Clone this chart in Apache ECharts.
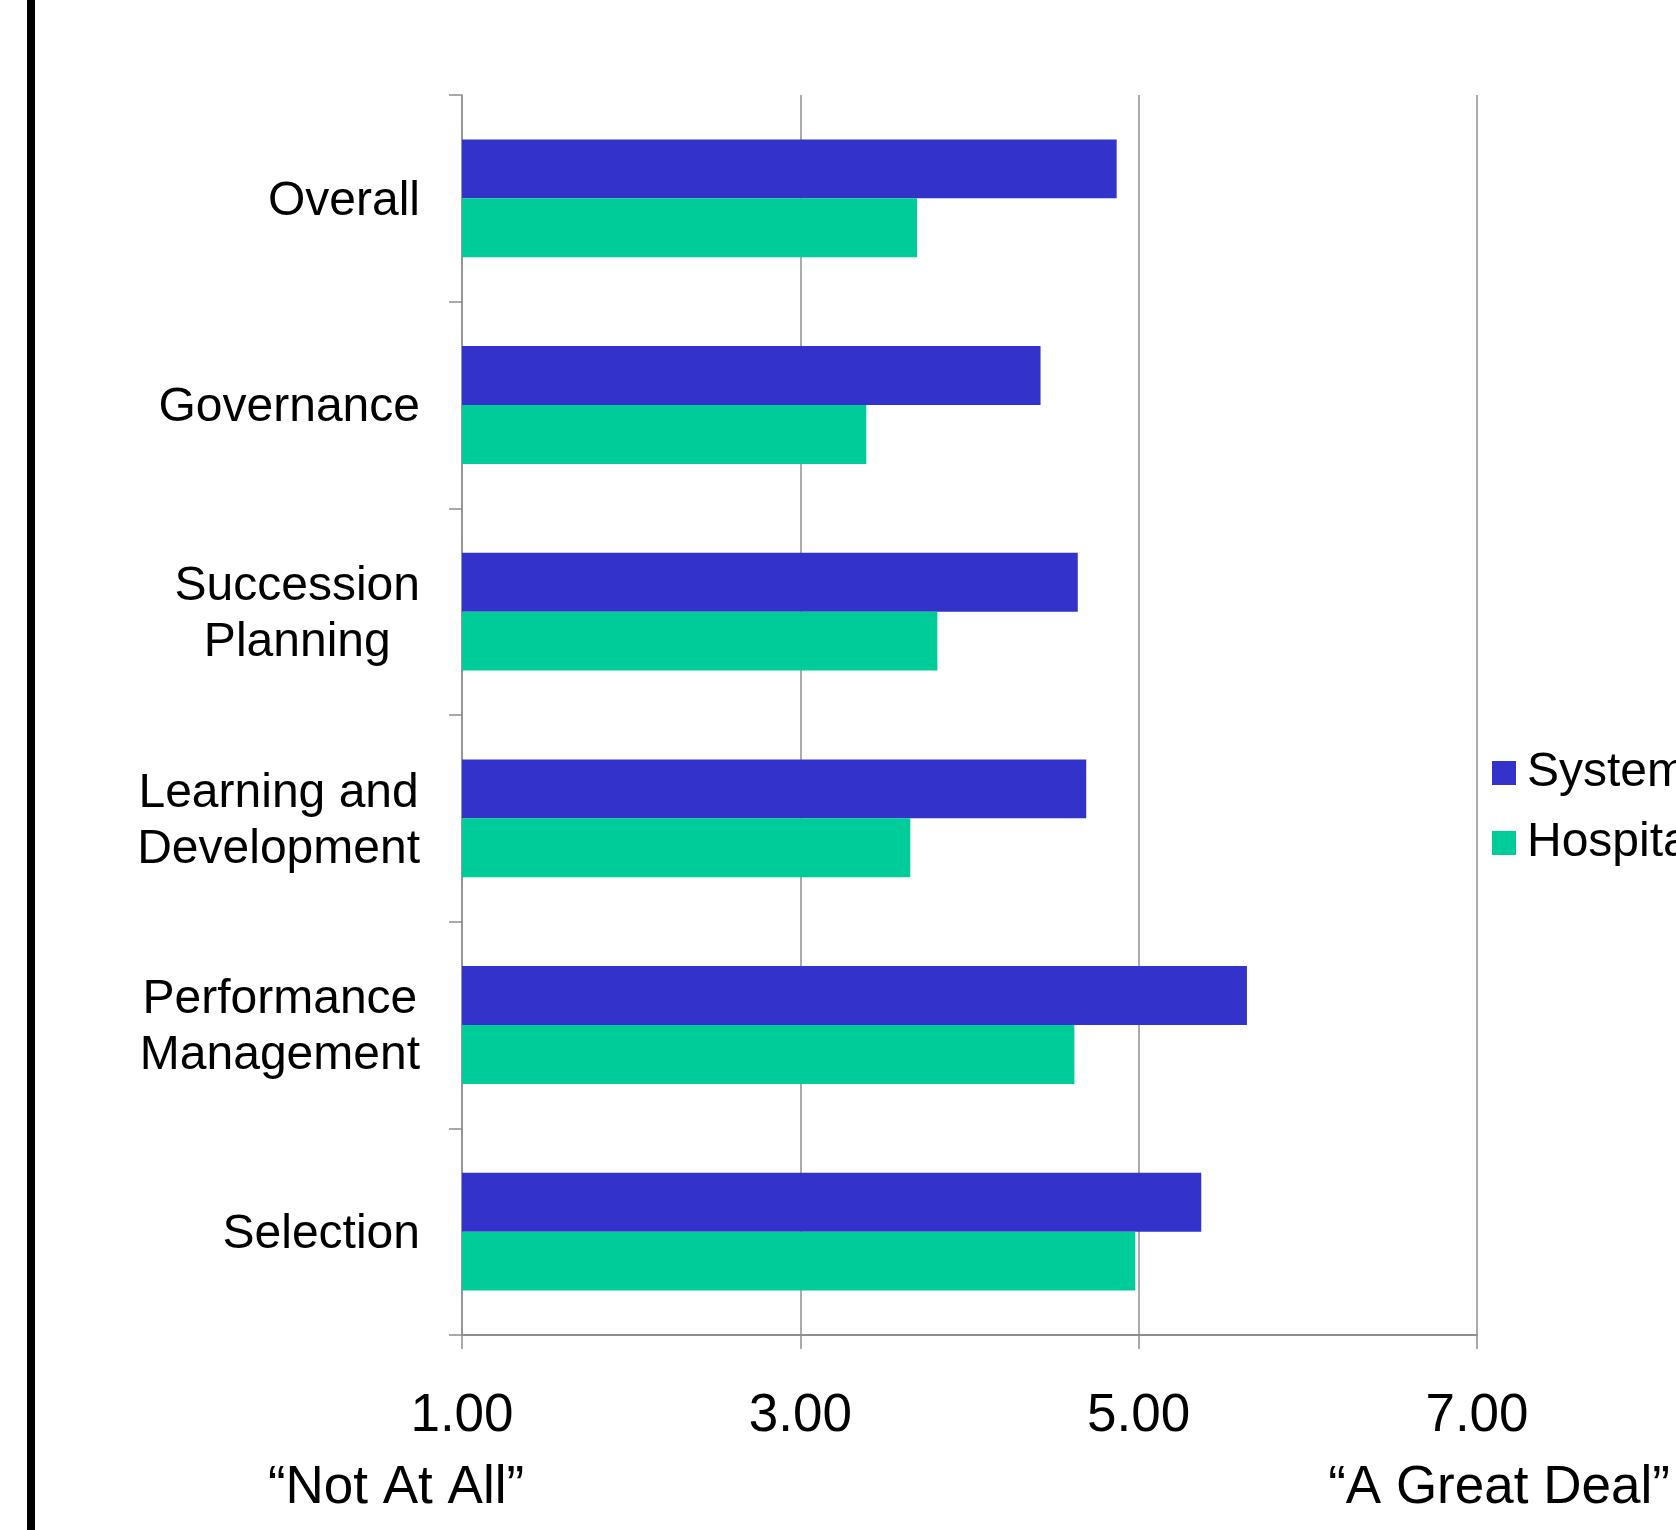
<!DOCTYPE html>
<html>
<head>
<meta charset="utf-8">
<script src="https://cdn.jsdelivr.net/npm/echarts@6/dist/echarts.min.js"></script>
<style>
  html, body { margin: 0; padding: 0; background: #ffffff; }
  #chart { width: 1676px; height: 1530px; }
</style>
</head>
<body>
<div id="chart"></div>
<script>
// Development areas, top to bottom
const categories = [
  'Overall',
  'Governance',
  'Succession\nPlanning',
  'Learning and\nDevelopment',
  'Performance\nManagement',
  'Selection'
];

// Mean ratings on the 1–7 scale
const systemValues   = [4.87, 4.42, 4.64, 4.69, 5.64, 5.37];
const hospitalValues = [3.69, 3.39, 3.81, 3.65, 4.62, 4.98];

const seriesNames = ['System', 'Hospital'];
const scaleAnchors = ['\u201CNot At All\u201D', '\u201CA Great Deal\u201D'];

const FONT = '"Liberation Sans", Arial, Helvetica, sans-serif';
const GRID_GRAY = '#8f8f8f';

const chart = echarts.init(document.getElementById('chart'), null, { renderer: 'canvas' });

const option = {
  backgroundColor: '#ffffff',
  animation: false,
  textStyle: { fontFamily: FONT, color: '#000000' },
  grid: { left: 462, right: 199, top: 95, bottom: 195, containLabel: false },
  legend: {
    orient: 'vertical',
    left: 1492,
    top: 749,
    padding: 0,
    itemWidth: 24,
    itemHeight: 24,
    itemGap: 22,
    icon: 'rect',
    data: seriesNames,
    textStyle: { fontFamily: FONT, fontSize: 48, color: '#000000', padding: [2, 0, 0, 6] }
  },
  xAxis: {
    type: 'value',
    min: 1,
    max: 7,
    interval: 2,
    axisLine: { show: true, lineStyle: { color: GRID_GRAY, width: 2 } },
    axisTick: { show: true, length: 14, lineStyle: { color: GRID_GRAY, width: 1.5 } },
    splitLine: { show: true, lineStyle: { color: GRID_GRAY, width: 1.5 } },
    axisLabel: {
      margin: 55,
      fontFamily: FONT,
      fontSize: 53,
      color: '#000000',
      formatter: v => v.toFixed(2)
    }
  },
  yAxis: {
    type: 'category',
    inverse: true,
    data: categories,
    axisLine: { show: true, lineStyle: { color: GRID_GRAY, width: 1.5 } },
    axisTick: { show: true, length: 13, lineStyle: { color: GRID_GRAY, width: 1.5 } },
    splitLine: { show: false },
    axisLabel: {
      margin: 42,
      align: 'right',
      padding: [6, 0, 0, 0],
      formatter: v => v.split('\n').map(s => '{c|' + s + '}').join('\n'),
      rich: {
        c: { align: 'center', fontFamily: FONT, fontSize: 48, lineHeight: 56, color: '#000000' }
      }
    }
  },
  series: [
    {
      name: seriesNames[0],
      type: 'bar',
      data: systemValues,
      barGap: '0%',
      barCategoryGap: '43%',
      clip: true,
      itemStyle: { color: '#3333CC' }
    },
    {
      name: seriesNames[1],
      type: 'bar',
      data: hospitalValues,
      barGap: '0%',
      barCategoryGap: '43%',
      clip: true,
      itemStyle: { color: '#00CC99' }
    }
  ],
  graphic: [
    {
      type: 'rect',
      left: 27,
      top: 0,
      shape: { width: 8, height: 1530 },
      style: { fill: '#000000' },
      silent: true
    },
    {
      type: 'text',
      x: 396,
      y: 1488,
      style: {
        text: scaleAnchors[0],
        fontFamily: FONT,
        fontSize: 53,
        fill: '#000000',
        align: 'center',
        verticalAlign: 'middle'
      }
    },
    {
      type: 'text',
      x: 1499,
      y: 1488,
      style: {
        text: scaleAnchors[1],
        fontFamily: FONT,
        fontSize: 53,
        fill: '#000000',
        align: 'center',
        verticalAlign: 'middle'
      }
    }
  ]
};

chart.setOption(option);
</script>
</body>
</html>
